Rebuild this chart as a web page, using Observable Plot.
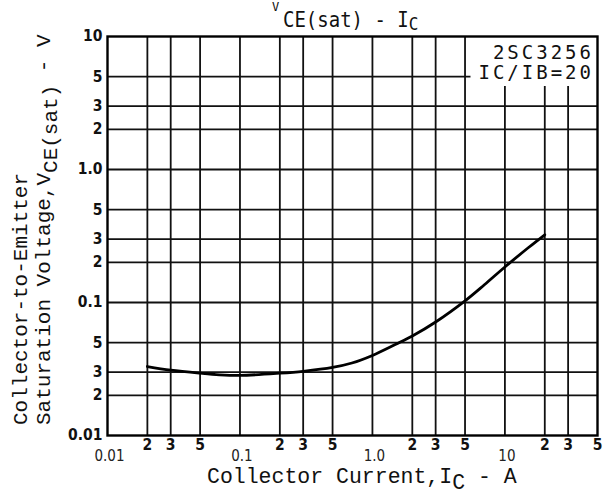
<!DOCTYPE html>
<html><head><meta charset="utf-8">
<script src="https://cdn.jsdelivr.net/npm/d3@7"></script>
<script src="https://cdn.jsdelivr.net/npm/@observablehq/plot@0.6"></script>
<style>
body{margin:0;background:#fff}
#chart{width:609px;height:496px;position:relative}
svg{overflow:visible}
</style>
</head><body><div id="chart"></div>
<script>
// Curve: collector current (A) vs VCE(sat) (V)
const current = [0.02, 0.03, 0.05, 0.07, 0.1, 0.2, 0.3, 0.5, 0.7, 1.0, 1.5, 2, 3, 5, 7, 10, 15, 20];
const vce     = [0.033, 0.031, 0.0294, 0.0286, 0.0283, 0.0294, 0.0304, 0.0325, 0.0351, 0.040, 0.0485, 0.056, 0.0714, 0.103, 0.136, 0.185, 0.258, 0.323];

// Grid and ticks
const xGrid = [0.02, 0.03, 0.05, 0.1, 0.2, 0.3, 0.5, 1, 2, 3, 5, 10, 20, 30];
const yGrid = [0.02, 0.03, 0.05, 0.1, 0.2, 0.3, 0.5, 1, 2, 3, 5];
const xMinorTicks  = [0.02, 0.03, 0.05, 0.2, 0.3, 0.5, 2, 3, 5, 20, 30, 50];
const xMinorLabels = ["2", "3", "5", "2", "3", "5", "2", "3", "5", "2", "3", "5"];
const xDecadeTicks  = [0.01, 0.1, 1, 10];
const xDecadeLabels = ["0.01", "0.1", "1.0", "10"];
const yTicks      = [10, 5, 3, 2, 1, 0.5, 0.3, 0.2, 0.1, 0.05, 0.03, 0.02, 0.01];
const yTickLabels = ["10", "5", "3", "2", "1.0", "5", "3", "2", "0.1", "5", "3", "2", "0.01"];

// Texts
const annotationLines = ["2SC3256", "IC/IB=20"];

const curve = current.map((c, i) => ({c, v: vce[i]}));
const tickFont = "'DejaVu Sans Condensed', 'DejaVu Sans', sans-serif";
const monoFont = "'Liberation Mono', 'DejaVu Sans Mono', monospace";
const sansMono = "'DejaVu Sans Mono', monospace";

const chart = Plot.plot({
  width: 609, height: 496,
  marginLeft: 107, marginRight: 12, marginTop: 36, marginBottom: 61,
  style: {background: "#fff", color: "#000"},
  x: {type: "log", domain: [0.01, 50], axis: null},
  y: {type: "log", domain: [0.01, 10], axis: null},
  marks: [
    Plot.ruleX(xGrid, {stroke: "#111", strokeWidth: 1.8}),
    Plot.ruleY(yGrid, {stroke: "#111", strokeWidth: 1.8}),
    Plot.line(curve, {x: "c", y: "v", curve: "catmull-rom", stroke: "#000", strokeWidth: 2.8}),
    Plot.frame({stroke: "#000", strokeWidth: 2.4}),
    Plot.text(yTicks, {y: d => d, text: (d, i) => yTickLabels[i], frameAnchor: "left", textAnchor: "end", dx: -5,
      fontWeight: "bold", fontSize: 15.5, fontFamily: tickFont, fill: "#111"}),
    Plot.text(xMinorTicks, {x: d => d, text: (d, i) => xMinorLabels[i], frameAnchor: "bottom", lineAnchor: "top", dy: 3,
      fontWeight: "bold", fontSize: 15.5, fontFamily: tickFont, fill: "#111"}),
    Plot.text(xDecadeTicks, {x: d => d, text: (d, i) => xDecadeLabels[i], frameAnchor: "bottom", lineAnchor: "top", dy: 15, dx: 2,
      fontSize: 15, fontFamily: tickFont, fill: "#222"})
  ]
});
document.getElementById("chart").appendChild(chart);

const svg = d3.select(chart);
const [x0, x1] = chart.scale("x").range;
const [y0, y1] = chart.scale("y").range; // y0 bottom, y1 top

// Annotation box (white background behind the text, top-right of the frame)
const ann = svg.append("g");
const annRect = ann.append("rect").attr("fill", "#fff");
const annText = ann.append("text")
  .attr("font-family", sansMono).attr("font-size", 19).attr("letter-spacing", 3)
  .attr("text-anchor", "end").attr("fill", "#111");
annotationLines.forEach((t, i) => {
  annText.append("tspan").attr("x", x1 - 3).attr("y", y1 + 23 + i * 20).text(t);
});
const bb = annText.node().getBBox();
annRect.attr("x", bb.x - 8).attr("y", y1).attr("width", x1 - bb.x + 8).attr("height", bb.y + bb.height + 3 - y1);
svg.select('[aria-label="frame"]').raise();

// Title
svg.append("text").attr("x", 272).attr("y", 11).attr("text-anchor", "start")
  .attr("font-family", sansMono).attr("font-size", 12).attr("fill", "#111").text("V");
const tg = svg.append("g").attr("transform", "translate(283,27) scale(1,1.15)");
const title = tg.append("text").attr("x", 0).attr("y", 0).attr("text-anchor", "start")
  .attr("font-family", sansMono).attr("font-size", 19).attr("fill", "#111");
title.append("tspan").text("CE(sat) - I");
title.append("tspan").attr("dy", 3).attr("font-size", 16).text("C");

// X axis title
const xt = svg.append("text").attr("x", 207).attr("y", 483).attr("text-anchor", "start")
  .attr("font-family", monoFont).attr("font-size", 21.5).attr("fill", "#111");
xt.append("tspan").text("Collector Current,I");
xt.append("tspan").attr("dy", 6).text("C");
xt.append("tspan").attr("dy", -6).text(" - A");

// Y axis title (two rotated lines)
const yt1 = svg.append("text").attr("transform", "translate(27,425) rotate(-90)").attr("text-anchor", "start")
  .attr("font-family", monoFont).attr("font-size", 21).attr("fill", "#111");
yt1.append("tspan").text("Collector-to-Emitter");
const yt2 = svg.append("text").attr("transform", "translate(50,425) rotate(-90)").attr("text-anchor", "start")
  .attr("font-family", monoFont).attr("font-size", 21).attr("fill", "#111");
yt2.append("tspan").text("Saturation Voltage,V");
yt2.append("tspan").attr("dy", 7).text("CE(sat)");
yt2.append("tspan").attr("dy", -7).text(" - V");
</script>
</body></html>
